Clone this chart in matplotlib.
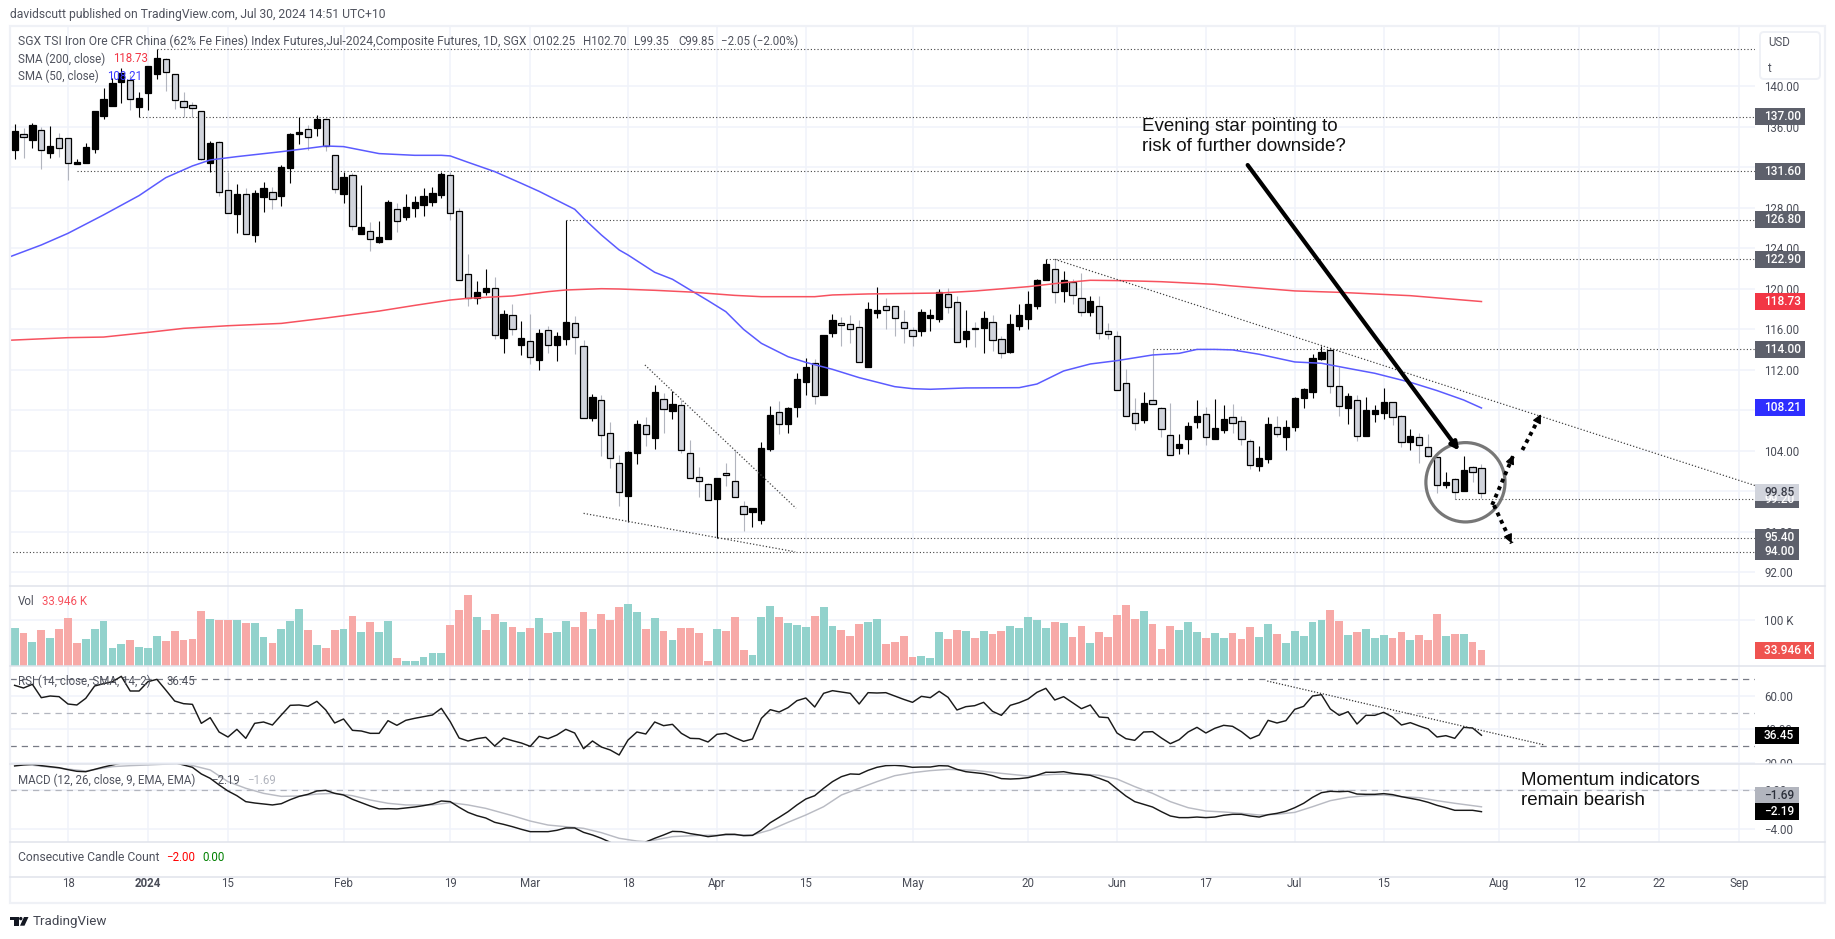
import matplotlib
matplotlib.use("Agg")
import matplotlib.pyplot as plt
from matplotlib.patches import Rectangle, Ellipse, Polygon, Circle, FancyBboxPatch
from matplotlib.transforms import Bbox

plt.rcParams['font.family'] = ['Roboto', 'DejaVu Sans']
plt.rcParams['font.size'] = 8.3

# daily candles, one entry per trading bar
opens = [133.74, 135.26, 134.73, 135.65, 133.45, 134.86, 134.86, 132.36, 132.46, 133.84,
         137.10, 138.09, 140.46, 140.59, 137.99, 139.37, 141.25, 142.67, 141.19, 138.52,
         138.12, 137.53, 132.39, 134.47, 129.72, 127.42, 129.33, 125.34, 129.10, 129.53,
         129.20, 131.96, 135.26, 135.75, 135.92, 136.74, 133.18, 129.36, 131.20, 125.44,
         125.67, 124.65, 124.95, 127.85, 127.06, 128.01, 128.31, 128.60, 129.30, 131.20,
         127.65, 121.49, 119.05, 119.68, 120.04, 115.16, 117.36, 114.47, 114.86, 112.98,
         115.95, 114.47, 115.06, 116.64, 114.37, 107.25, 108.97, 105.70, 102.74, 99.55,
         103.80, 106.50, 105.28, 109.07, 107.95, 108.47, 103.73, 101.36, 100.67, 99.25,
         101.76, 100.96, 98.49, 97.97, 97.18, 104.16, 107.78, 106.66, 108.34, 110.81,
         112.69, 109.53, 115.65, 116.58, 116.48, 116.18, 112.30, 117.63, 118.26, 118.26,
         116.68, 115.89, 115.85, 117.14, 117.04, 119.44, 118.65, 115.06, 116.12, 116.15,
         116.74, 115.00, 113.78, 116.35, 117.04, 118.29, 120.86, 121.98, 119.81, 120.69,
         119.11, 117.73, 118.32, 115.85, 115.29, 110.65, 107.68, 107.06, 108.97, 108.18,
         105.51, 104.29, 105.15, 106.86, 107.59, 105.18, 106.07, 107.29, 106.90, 104.92,
         102.52, 103.21, 106.37, 105.38, 106.37, 109.24, 109.83, 113.02, 113.95, 110.36,
         108.25, 108.97, 105.48, 107.65, 107.75, 108.77, 107.39, 104.89, 105.32, 104.39,
         103.34, 100.57, 101.17, 100.01, 102.42, 102.25]
highs = [136.28, 135.85, 136.34, 136.01, 136.08, 135.36, 134.86, 132.80, 134.43, 137.56,
         139.84, 140.79, 141.78, 141.12, 139.41, 142.01, 143.66, 142.77, 141.19, 139.47,
         138.48, 137.53, 134.63, 134.63, 131.57, 130.32, 129.92, 129.76, 130.58, 130.09,
         132.23, 135.42, 137.00, 136.18, 137.17, 136.84, 133.18, 131.50, 131.40, 130.25,
         126.63, 126.69, 128.77, 128.44, 129.36, 129.16, 129.92, 130.09, 131.57, 131.57,
         128.01, 123.40, 120.76, 121.95, 121.13, 117.89, 118.48, 116.80, 117.50, 115.98,
         116.31, 115.72, 126.80, 117.30, 114.93, 109.56, 109.49, 106.82, 103.57, 103.96,
         107.03, 107.36, 110.48, 109.66, 109.92, 109.00, 105.05, 102.38, 100.77, 101.26,
         102.74, 104.06, 99.02, 98.30, 104.85, 108.41, 108.90, 108.31, 111.64, 113.12,
         113.02, 115.39, 117.50, 117.17, 117.40, 116.91, 118.65, 120.13, 119.05, 118.26,
         117.90, 116.18, 117.96, 117.96, 119.94, 120.04, 119.28, 117.90, 116.68, 117.80,
         117.40, 115.33, 117.47, 118.49, 119.77, 120.93, 122.90, 122.90, 121.78, 120.93,
         121.52, 119.28, 119.28, 116.58, 115.82, 112.03, 109.23, 109.76, 114.00, 108.28,
         108.74, 105.64, 106.83, 109.00, 108.34, 109.10, 108.51, 108.61, 107.42, 105.15,
         104.46, 107.29, 107.42, 107.03, 109.27, 110.19, 113.52, 114.34, 114.00, 112.30,
         109.73, 109.50, 109.27, 108.51, 110.16, 108.84, 107.52, 106.17, 105.71, 105.65,
         103.34, 101.89, 101.33, 103.47, 102.52, 102.70]
lows = [132.79, 132.89, 133.94, 131.86, 132.95, 133.05, 130.78, 132.36, 132.40, 133.45,
        136.77, 138.09, 138.39, 137.66, 137.00, 137.66, 140.76, 139.57, 137.79, 137.00,
        137.00, 132.72, 131.57, 129.16, 127.45, 125.54, 125.38, 124.65, 127.62, 127.85,
        128.21, 130.48, 134.30, 133.71, 135.13, 133.61, 129.43, 128.50, 125.80, 125.44,
        123.76, 124.55, 124.95, 125.64, 126.79, 127.12, 127.19, 128.17, 129.00, 126.79,
        120.83, 118.29, 118.52, 119.38, 115.06, 113.68, 115.42, 113.45, 112.56, 111.96,
        113.68, 112.85, 114.47, 113.54, 107.19, 106.96, 103.46, 102.31, 98.56, 96.98,
        102.68, 104.46, 104.16, 105.77, 107.12, 103.80, 101.26, 99.45, 99.09, 95.40,
        100.54, 99.45, 96.09, 96.49, 96.75, 103.96, 105.64, 105.77, 107.36, 109.50,
        108.61, 109.53, 115.26, 114.37, 114.60, 112.72, 112.30, 117.14, 116.02, 115.33,
        114.67, 114.37, 115.33, 115.82, 116.74, 117.57, 114.70, 114.27, 114.27, 113.68,
        113.84, 113.18, 113.68, 115.92, 116.05, 118.03, 120.86, 118.62, 118.72, 118.45,
        117.33, 117.33, 115.06, 115.00, 109.96, 107.39, 106.04, 106.76, 108.64, 105.38,
        103.53, 103.67, 103.70, 106.27, 104.59, 105.18, 105.71, 105.71, 104.56, 102.22,
        102.02, 102.81, 105.32, 104.06, 105.98, 108.25, 109.17, 112.96, 109.73, 107.42,
        106.60, 104.99, 105.48, 106.83, 107.09, 106.50, 104.33, 104.06, 102.81, 103.34,
        99.85, 100.27, 99.20, 100.01, 100.93, 99.35]
closes = [135.59, 135.03, 136.15, 133.68, 134.07, 133.87, 132.46, 132.49, 134.00, 137.56,
          138.75, 140.33, 141.28, 138.72, 138.81, 142.01, 142.77, 141.38, 138.62, 137.99,
          137.83, 132.85, 134.37, 129.53, 127.45, 129.36, 125.44, 129.43, 129.92, 128.90,
          132.00, 135.26, 135.45, 135.03, 136.74, 134.10, 129.82, 131.01, 126.23, 126.10,
          124.95, 125.11, 128.57, 126.66, 128.04, 128.57, 129.16, 129.43, 131.34, 127.45,
          120.83, 119.05, 119.64, 120.04, 115.39, 117.46, 115.98, 115.09, 113.21, 115.59,
          114.40, 115.29, 116.67, 115.19, 107.19, 109.26, 105.51, 103.23, 99.88, 103.86,
          106.63, 105.68, 109.76, 108.08, 108.61, 104.09, 101.26, 100.96, 99.09, 101.26,
          101.56, 99.45, 97.70, 98.30, 104.23, 107.52, 106.66, 108.21, 111.04, 112.23,
          109.36, 115.39, 116.91, 116.41, 116.05, 112.72, 117.96, 117.90, 117.93, 117.14,
          116.15, 115.36, 117.66, 117.37, 119.67, 118.16, 114.70, 115.79, 116.03, 117.07,
          114.90, 113.61, 116.48, 117.37, 118.45, 120.83, 122.41, 119.64, 120.83, 119.34,
          117.73, 118.82, 115.59, 115.49, 109.96, 107.39, 106.70, 108.67, 108.64, 106.10,
          103.60, 104.62, 106.40, 107.39, 105.31, 106.20, 107.09, 106.70, 105.12, 102.55,
          103.24, 106.60, 105.68, 106.30, 109.17, 110.06, 113.12, 113.71, 110.36, 108.38,
          109.37, 105.41, 107.98, 107.98, 108.77, 107.29, 104.89, 105.41, 104.53, 103.44,
          100.57, 100.87, 99.88, 102.12, 101.86, 99.85]

# volume in thousands, and the side each bar was coloured (G up, R down)
volumes = [82.6, 71.7, 52.2, 78.3, 60.9, 80.4, 104.3, 50.0, 58.7, 80.4, 97.8, 39.1, 47.8, 56.5,
           41.3, 39.1, 65.2, 54.3, 76.1, 56.5, 58.7, 119.6, 102.2, 100.0, 100.0, 100.0, 93.5,
           93.5, 63.0, 50.0, 80.4, 97.8, 123.9, 78.3, 45.7, 39.1, 78.3, 80.4, 108.7, 73.9, 95.7,
           73.9, 97.8, 17.4, 10.9, 10.9, 19.6, 28.3, 28.3, 89.1, 121.7, 154.3, 106.5, 78.3,
           113.0, 95.7, 84.8, 73.9, 82.6, 104.3, 71.7, 73.9, 97.8, 84.8, 117.4, 80.4, 113.0,
           100.0, 128.3,
           134.8, 117.4, 80.4, 104.3, 76.1, 56.5, 82.6, 82.6, 71.7, 10.9, 80.4, 76.1, 106.5,
           34.8, 23.9, 106.5, 130.4, 106.5, 93.5, 89.1, 84.8, 108.7, 128.3, 87.0, 78.3, 65.2,
           91.3, 95.7, 102.2, 47.8, 52.2, 65.2, 19.6, 21.7, 17.4, 73.9, 58.7, 78.3, 76.1, 60.9,
           76.1, 69.6, 76.1, 87.0, 82.6, 106.5, 100.0, 82.6, 95.7, 93.5, 63.0, 87.0, 50.0, 73.9,
           63.0, 110.9, 132.6, 102.2, 119.6, 91.3, 37.0, 87.0, 78.3, 95.7, 73.9, 60.9, 71.7,
           60.9, 71.7, 58.7, 84.8, 63.0, 91.3, 69.6, 50.0, 76.1, 65.2, 95.7, 100.0, 121.7, 97.8,
           67.4, 73.9, 80.4, 60.9, 67.4, 60.9, 73.9, 56.5, 67.4, 56.5, 113.0, 65.2, 69.6, 69.6,
           52.2, 33.946]
vol_sides = ("GRGRGRRRGGGGGRGGGRRRRRGRRGRGGRGGGRGRRGRGRGGRGGGGGRRRGRRGRGRGRGGRRGRRR"
             "GGRGRGRRRRGRRRGGGRGGGRGGRRRGGRRRRGGGRRGRGRRGGGGGRGRRGRRRRRGRRRGGGRG"
             "GRRRGGRGGGGGRRGRGGGRRGRRRGRGRR")

rsi = [66.4, 64.8, 67.0, 59.0, 60.0, 59.6, 55.2, 54.6, 58.6, 66.0, 67.4, 68.6, 71.8, 63.0, 63.0,
       68.6, 70.0, 63.6, 57.0, 55.4, 55.0, 43.6, 47.0, 38.4, 35.4, 40.0, 34.6, 43.6, 44.4, 42.6,
       48.6, 54.4, 54.6, 53.8, 56.8, 51.6, 43.8, 46.2, 39.4, 39.0, 37.6, 37.6, 45.2, 42.4, 45.4,
       46.6, 47.6, 48.6, 52.6, 44.6, 34.8, 33.0, 34.4, 35.2, 30.0, 34.8, 33.2, 31.8, 29.8, 35.8,
       34.4, 36.6, 40.0, 37.8, 28.4, 33.0, 29.4, 27.6, 24.6,
       33.6, 38.4, 37.2, 44.4, 42.2, 43.0, 37.6, 34.6, 34.4, 32.4, 37.0, 37.6, 35.0, 32.8, 34.2,
       46.6, 51.8, 50.4, 53.0, 57.2, 58.8, 53.4, 61.6, 63.2, 62.4, 61.6, 55.2, 62.0, 61.8, 62.0,
       60.0, 58.0, 56.2, 59.8, 59.0, 62.8, 59.2, 51.6, 53.6, 54.2, 56.2, 50.8, 48.4, 54.4, 56.0,
       58.2, 62.2, 64.6, 57.6, 59.6, 56.0, 52.4, 54.6, 47.4, 47.0, 37.8, 34.4, 33.4, 38.4, 38.6,
       34.8, 31.4, 33.8, 38.4, 41.2, 37.8, 40.6,
       42.4, 41.8, 38.6, 34.4, 36.6, 45.4, 43.8, 45.2, 52.0, 53.8, 60.0, 60.8, 52.2, 48.4, 50.6,
       43.2, 48.4, 48.4, 50.2, 47.4, 42.6, 44.0, 42.0, 40.2, 35.4, 36.2, 34.6, 41.2, 40.8, 36.45]

macd = [2.50, 2.60, 2.67, 2.53, 2.43, 2.32, 2.12, 1.95, 1.91, 2.15, 2.39, 2.60, 2.80, 3.01, 3.01,
        3.11, 3.28, 3.11, 2.84, 2.60, 2.36, 1.68, 1.23, 0.55, -0.07, -0.55, -1.16, -1.30, -1.40,
        -1.50, -1.37, -0.96, -0.62, -0.41, -0.07, 0.00, -0.31, -0.48, -0.92, -1.26, -1.61, -1.91,
        -1.88, -1.91, -1.81, -1.71, -1.57, -1.40, -1.09, -1.16, -1.74, -2.26, -2.60, -2.84, -3.28,
        -3.49, -3.73, -4.00, -4.24, -4.24, -4.24, -4.10, -3.86, -3.86, -4.31, -4.58, -4.92, -5.33,
        -5.78,
        -6.12, -5.95, -5.30, -4.92, -4.58, -4.21, -4.24, -4.44, -4.58, -4.75, -4.65, -4.51, -4.51,
        -4.65, -4.62, -4.07, -3.32, -2.77, -2.19, -1.50, -0.89, -0.55, 0.21, 0.89, 1.40, 1.68,
        1.64, 2.05, 2.36, 2.53, 2.56, 2.50, 2.36, 2.39, 2.39, 2.53, 2.50, 2.15, 1.91, 1.81, 1.71,
        1.50, 1.20, 1.16, 1.20, 1.30, 1.54, 1.85, 1.85, 1.91, 1.74, 1.64, 1.54, 1.23, 0.89, 0.14,
        -0.58, -1.16, -1.44, -1.71, -2.19, -2.63, -2.80, -2.80, -2.74, -2.80, -2.74,
        -2.56, -2.46, -2.46, -2.63, -2.74, -2.50, -2.36, -2.15, -1.78, -1.33, -0.72, -0.24, -0.10,
        -0.14, -0.10, -0.38, -0.41, -0.41, -0.34, -0.44, -0.65, -0.82, -0.99, -1.23, -1.54, -1.78,
        -2.05, -2.05, -2.05, -2.19]

signal_bars = [0, 8, 11, 13, 15, 19, 22, 24, 26, 28, 30, 32, 34, 36, 38, 40, 42, 44, 47, 49, 51, 53,
               56, 58, 60, 62, 64, 66, 68, 70, 71, 74, 77, 81, 83, 85, 87, 89, 91, 93, 95, 97, 99,
               101, 103, 105, 108, 111, 114, 117, 120, 122, 124, 126, 128, 130, 132, 134, 136, 138,
               140, 142, 144, 146, 148, 150, 152, 154, 156, 158, 160, 162, 164, 165]
signal = [2.77, 1.98, 2.43, 2.53, 2.60, 2.77, 2.09, 0.89, 0.21, -0.31, -0.62, -0.58, -0.38, -0.31,
          -0.55, -0.99, -1.33, -1.50, -1.50, -1.26, -1.50, -1.85, -2.60, -3.15, -3.56, -3.73, -3.90,
          -4.34, -4.92, -5.20, -5.27, -4.75, -4.62, -4.58, -4.58, -4.07, -3.28, -2.53, -1.68, -0.48,
          0.21, 0.89, 1.50, 1.81, 2.02, 2.15, 2.05, 1.74, 1.47, 1.64, 1.68, 1.54, 1.16, 0.38, -0.31,
          -1.16, -1.78, -2.12, -2.22, -2.36, -2.53, -2.46, -2.26, -1.68, -1.06, -0.72, -0.55, -0.48,
          -0.65, -0.75, -1.06, -1.33, -1.57, -1.69]

sma50_bars = [-1, 3, 6, 10, 14, 17, 20, 22, 25, 30, 33, 35, 37, 41, 45, 48, 49, 51, 54, 57, 59, 63,
              64, 65, 66, 68, 69, 72, 74, 76, 78, 80, 82, 84, 87, 89, 92, 95, 99, 101, 103, 107,
              113, 115, 118, 121, 124, 128, 131, 133, 135, 137, 140, 144, 147, 150, 153, 157, 160,
              163, 165]
sma50 = [123.00, 124.32, 125.47, 127.29, 129.20, 130.97, 132.13, 132.72, 133.05, 133.54, 133.87,
         134.10, 134.04, 133.35, 133.18, 133.18, 133.12, 132.49, 131.57, 130.41, 129.62, 127.85,
         126.96, 126.13, 125.31, 123.83, 123.33, 121.62, 120.93, 119.87, 118.82, 117.73, 115.98,
         114.60, 113.28, 112.72, 112.03, 111.21, 110.32, 110.12, 110.06, 110.19, 110.22, 110.58,
         111.87, 112.56, 112.89, 113.45, 113.61, 114.00, 114.00, 113.95, 113.52, 112.76, 112.63,
         112.13, 111.64, 110.75, 109.93, 109.00, 108.21]

sma200_bars = [-1, 6, 10, 15, 19, 24, 30, 35, 41, 45, 49, 51, 56, 60, 62, 66, 68, 72, 76, 81, 84,
               90, 92, 96, 104, 108, 114, 118, 121, 125, 129, 135, 137, 144, 149, 157, 165]
sma200 = [114.89, 115.16, 115.22, 115.68, 116.08, 116.34, 116.57, 117.10, 117.79, 118.35, 118.88,
          119.05, 119.28, 119.71, 119.87, 120.00, 119.97, 119.84, 119.67, 119.34, 119.21, 119.21,
          119.38, 119.48, 119.57, 119.77, 120.20, 120.60, 120.83, 120.79, 120.69, 120.43, 120.27,
          119.78, 119.64, 119.31, 118.73]

# horizontal levels: price and the bar each one starts from
level_prices = [143.65, 137.00, 131.60, 126.80, 122.90, 114.00, 99.20, 95.40, 94.00]
level_bars = [16, 14, 7, 62, 116, 128, 162, 79, -1]

# time axis labels and the bar they sit on
date_labels = ['18', '2024', '15', 'Feb', '19', 'Mar', '18', 'Apr', '15', 'May', '20', 'Jun', '17',
               'Jul', '15', 'Aug', '12', '22', 'Sep']
date_bars = [6, 15, 24, 37, 49, 58, 69, 79, 89, 101, 114, 124, 134, 144, 154, 167, 176, 185, 194]

price_ticks = [140, 136, 132, 128, 124, 120, 116, 112, 108, 104, 100, 96, 92]

WIDTH, HEIGHT = 1835, 939
LEFT, AXIS_X, RIGHT = 10, 1755, 1825
XLIM = (-0.52, 195.77)

GRID = '#f0f3fa'
LINE = '#e0e3eb'
TEXT = '#50535e'
DOWN_BODY = '#d1d4dc'
DOWN_WICK = '#b2b5be'
VOL_UP = '#92d2cc'
VOL_DOWN = '#f7a9a7'
LEVEL_BOX = '#5d606b'


def add_pane(fig, top, bottom):
    ax = fig.add_axes([LEFT / WIDTH, 1 - bottom / HEIGHT, (AXIS_X - LEFT) / WIDTH,
                       (bottom - top) / HEIGHT])
    ax.set_xlim(*XLIM)
    for spine in ax.spines.values():
        spine.set_visible(False)
    ax.set_axisbelow(True)
    ax.set_xticks(date_bars)
    ax.tick_params(axis='x', length=0, labelbottom=False)
    ax.yaxis.tick_right()
    ax.tick_params(axis='y', length=0, pad=6.5, labelcolor='#4a4d58')
    ax.grid(True, color=GRID, lw=1.1)
    return ax


def set_y_ticks(ax, ticks, labels):
    ax.set_yticks(ticks)
    ax.set_yticklabels(labels)
    # labels near the pane edge get cut off by the pane, like on the site
    pos = ax.get_window_extent()
    box = Bbox.from_extents(AXIS_X, pos.y0, RIGHT, pos.y1)
    for label in ax.get_yticklabels():
        label.set_clip_box(box)
        label.set_clip_on(True)


def pixel_y(ax, value):
    return HEIGHT - ax.transData.transform((0, value))[1]


def value_box(ov, y, text, bg, fg, width=50):
    ov.add_patch(Rectangle((AXIS_X, y - 8.5), width, 17, color=bg, lw=0, zorder=5))
    ov.text(AXIS_X + 9, y, text, color=fg, va='center', ha='left', fontsize=8.6,
            fontweight='medium', zorder=6)


def draw_candles(ax):
    bars = range(len(opens))
    up = [c >= o for o, c in zip(opens, closes)]
    ax.vlines(bars, lows, highs, colors=['black' if u else DOWN_WICK for u in up], lw=0.8, zorder=2)
    bottoms = [min(o, c) for o, c in zip(opens, closes)]
    heights = [abs(c - o) for o, c in zip(opens, closes)]
    ax.bar(bars, heights, bottom=bottoms, width=0.7, color=['black' if u else DOWN_BODY for u in up],
           edgecolor='black', lw=0.9, zorder=3)


def draw_price_pane(ax):
    ax.set_ylim(90.62, 145.86)
    set_y_ticks(ax, price_ticks, ['%.2f' % t for t in price_ticks])
    draw_candles(ax)
    ax.plot(sma50_bars, sma50, color='#5b5bff', lw=1.1, zorder=4)
    ax.plot(sma200_bars, sma200, color='#f7525f', lw=1.1, zorder=4)
    for price, bar in zip(level_prices, level_bars):
        ax.plot([bar, XLIM[1]], [price, price], color='#444444', lw=0.8, ls=(0, (1, 2)), zorder=2)

    # trend lines
    dotted = dict(color='#444444', lw=0.9, ls=(0, (1, 1.6)), zorder=4)
    ax.plot([117, 195.8], [122.9, 100.54], **dotted)
    ax.plot([64, 87.8], [97.8, 94.0], **dotted)
    ax.plot([70.9, 87.9], [112.46, 98.3], **dotted)

    # hand drawn notes
    ax.annotate('', xy=(162.5, 104.0), xytext=(138.7, 132.22), zorder=7,
                arrowprops=dict(arrowstyle='-|>', lw=3, color='black', mutation_scale=11,
                                shrinkA=0, shrinkB=0))
    ax.add_patch(Ellipse((163.2, 100.87), 8.9, 7.84, fill=False, ec='#777777', lw=2.3, zorder=6))
    for start, end in [((166.2, 98.63), (168.6, 103.56)), ((169.6, 104.06), (171.7, 107.6)),
                       ((166.4, 98.6), (168.4, 94.84))]:
        ax.plot([start[0], end[0]], [start[1], end[1]], color='black', lw=2.8, ls=(0, (1, 1.1)), zorder=7)
        ax.annotate('', xy=end, xytext=(end[0] - (end[0] - start[0]) * 0.05, end[1] - (end[1] - start[1]) * 0.05),
                    zorder=7, arrowprops=dict(arrowstyle='-|>', color='black', lw=1,
                                              mutation_scale=13, shrinkA=0, shrinkB=0))


def draw_volume_pane(ax):
    ax.set_ylim(0, 173.9)
    set_y_ticks(ax, [100], ['100 K'])
    colors = [VOL_UP if s == 'G' else VOL_DOWN for s in vol_sides]
    ax.bar(range(len(volumes)), volumes, width=0.88, color=colors, lw=0, zorder=2)


def draw_rsi_pane(ax):
    ax.set_ylim(19.2, 78.0)
    set_y_ticks(ax, [60, 40, 20], ['60.00', '40.00', '20.00'])
    for level, shade in [(70, '#787b86'), (50, '#b2b5be'), (30, '#787b86')]:
        ax.axhline(level, color=shade, lw=0.9, ls=(0, (5, 4)), zorder=1)
    ax.plot(range(len(rsi)), rsi, color='#1a1a1a', lw=1.05, zorder=3)
    ax.plot([140.9, 172.1], [69, 30.6], color='#333333', lw=0.9, ls=(0, (1, 1.4)), zorder=4)


def draw_macd_pane(ax):
    ax.set_ylim(-5.30, 2.70)
    set_y_ticks(ax, [0, -4], ['0.00', '\u22124.00'])
    ax.axhline(0, color='#b2b5be', lw=0.9, ls=(0, (5, 4)), zorder=1)
    ax.plot(signal_bars, signal, color='#b9bbc3', lw=1.05, zorder=2)
    ax.plot(range(len(macd)), macd, color='#1a1a1a', lw=1.05, zorder=3)


def draw_time_axis(ax):
    ax.set_ylim(0, 1)
    ax.set_yticks([])
    ax.grid(False)
    ax.set_xticks(date_bars)
    ax.set_xticklabels(date_labels)
    ax.tick_params(axis='x', length=0, labelbottom=True, pad=-19, labelcolor='#4a4d58')
    ax.patch.set_alpha(0)
    ax.get_xticklabels()[1].set_fontweight('bold')


def draw_overlay(ov, price_ax, vol_ax, rsi_ax, macd_ax):
    ov.set_xlim(0, WIDTH)
    ov.set_ylim(HEIGHT, 0)
    ov.axis('off')
    ov.patch.set_alpha(0)

    # frame and pane separators
    ov.add_patch(Rectangle((LEFT, 26), RIGHT - LEFT, 877, fill=False, ec='#eff1f6', lw=1.6))
    for y in [586, 666, 764, 842, 877]:
        ov.plot([LEFT, RIGHT], [y, y], color=LINE, lw=1.1)

    def label(x, y, text, color=TEXT, **kwargs):
        ov.text(x, y, text, color=color, va='center', ha='left', zorder=6, **kwargs)

    label(10, 14.5, 'davidscutt published on TradingView.com, Jul 30, 2024 14:51 UTC+10', fontsize=8.7)
    label(18, 41.7, 'SGX TSI Iron Ore CFR China (62% Fe Fines) Index Futures,Jul-2024,Composite Futures, 1D, SGX',
          fontsize=8.7)
    for x, text in [(532, 'O102.25'), (583, 'H102.70'), (634, 'L99.35'), (678, 'C99.85'),
                    (721, '\u22122.05 (\u22122.00%)')]:
        label(x, 41.7, text)
    label(18, 59, 'SMA (200, close)')
    label(113.5, 59, '118.73', color='#f23645')
    label(18, 76, 'SMA (50, close)')
    label(107.5, 76, '108.21', color='#3b3bff')
    label(18, 601.7, 'Vol')
    label(41.5, 601.7, '33.946 K', color='#f7525f')
    label(18, 681.7, 'RSI (14, close, SMA, 14, 2)')
    label(166, 681.7, '36.45')
    label(18, 780, 'MACD (12, 26, close, 9, EMA, EMA)')
    label(211.5, 780, '\u22122.19')
    label(247, 780, '\u22121.69', color='#b2b5be')
    label(18, 857.7, 'Consecutive Candle Count', fontsize=8.7)
    label(166, 857.7, '\u22122.00', color='#ff0000')
    label(202.5, 857.7, '0.00', color='#008000')

    # notes typed on the chart
    ov.text(1142, 136.5, 'Evening star pointing to\nrisk of further downside?', color='#111111',
            family='Liberation Sans', fontsize=13.5, va='center', ha='left', linespacing=1.2, zorder=8)
    ov.text(1521, 790.5, 'Momentum indicators\nremain bearish', color='#111111',
            family='Liberation Sans', fontsize=13.5, va='center', ha='left', linespacing=1.2, zorder=8)

    # currency box
    ov.add_patch(FancyBboxPatch((1761, 33), 58, 45, boxstyle='round,pad=1,rounding_size=4',
                                fc='white', ec='#eff1f6', lw=1.4, zorder=4))
    label(1768, 43, 'USD')
    label(1768, 69, 't')

    # last value boxes
    for price in [137.00, 131.60, 126.80, 122.90, 114.00]:
        value_box(ov, pixel_y(price_ax, price), '%.2f' % price, LEVEL_BOX, 'white')
    value_box(ov, pixel_y(price_ax, 118.73), '118.73', '#f23645', 'white')
    value_box(ov, pixel_y(price_ax, 108.21), '108.21', '#2e2eff', 'white')
    value_box(ov, pixel_y(price_ax, 99.20), '99.20', LEVEL_BOX, 'white', width=44)
    value_box(ov, pixel_y(price_ax, 99.85), '99.85', DOWN_BODY, '#3a3d48', width=44)
    value_box(ov, pixel_y(price_ax, 95.40), '95.40', LEVEL_BOX, 'white', width=44)
    value_box(ov, pixel_y(price_ax, 94.00), '94.00', LEVEL_BOX, 'white', width=44)
    value_box(ov, pixel_y(vol_ax, 33.946), '33.946 K', '#ef5350', 'white', width=59)
    value_box(ov, pixel_y(rsi_ax, 36.45), '36.45', 'black', 'white', width=44)
    value_box(ov, 795.3, '\u22121.69', '#b2b5be', '#2a2e39', width=44)
    value_box(ov, pixel_y(macd_ax, -2.19), '\u22122.19', 'black', 'white', width=44)

    # logo and footer
    ov.add_patch(Rectangle((10, 917), 8.5, 3, color='#131722', lw=0))
    ov.add_patch(Rectangle((14, 917), 4.5, 8.7, color='#131722', lw=0))
    ov.add_patch(Circle((20.8, 918.6), 1.7, color='#131722', lw=0))
    ov.add_patch(Polygon([(24, 917), (28.5, 917), (24.5, 925.7), (20, 925.7)], color='#131722', lw=0))
    ov.text(33, 921.5, 'TradingView', color='#434651', fontsize=9.6, va='center', ha='left')


def main():
    fig = plt.figure(figsize=(WIDTH / 100, HEIGHT / 100), dpi=100, facecolor='white')

    price_ax = add_pane(fig, 27, 586)
    vol_ax = add_pane(fig, 586, 666)
    rsi_ax = add_pane(fig, 666, 764)
    macd_ax = add_pane(fig, 764, 842)
    time_ax = add_pane(fig, 877, 903)

    draw_price_pane(price_ax)
    draw_volume_pane(vol_ax)
    draw_rsi_pane(rsi_ax)
    draw_macd_pane(macd_ax)
    draw_time_axis(time_ax)

    ov = fig.add_axes([0, 0, 1, 1], zorder=10)
    draw_overlay(ov, price_ax, vol_ax, rsi_ax, macd_ax)

    fig.savefig('out.png', dpi=100)


main()
